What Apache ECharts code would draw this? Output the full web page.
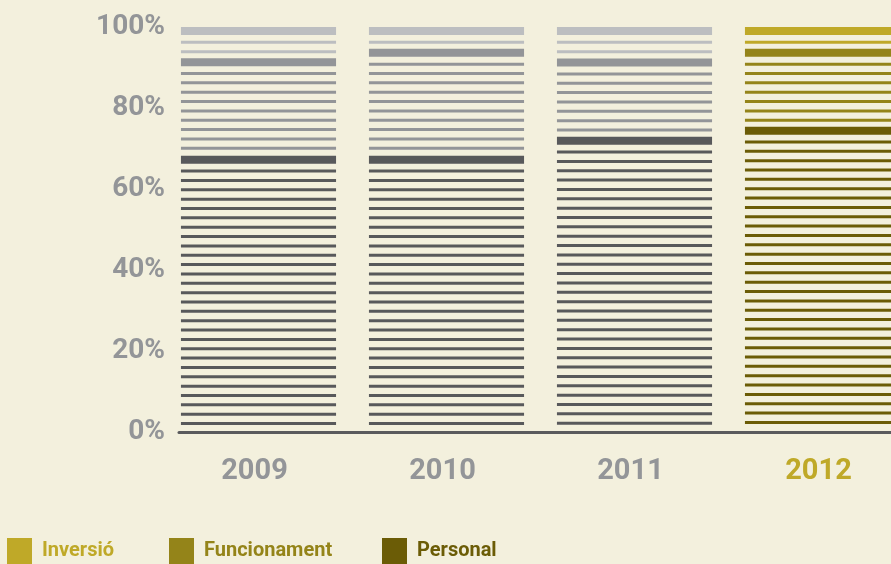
<!DOCTYPE html>
<html>
<head>
<meta charset="utf-8">
<script src="https://cdn.jsdelivr.net/npm/echarts@6/dist/echarts.min.js"></script>
<style>
  html, body { margin: 0; padding: 0; background: #f3f0dd; }
  #chart { width: 891px; height: 564px; }
</style>
</head>
<body>
<div id="chart"></div>
<script>
// percentage share of each chapter per year
const years = ['2009', '2010', '2011', '2012']
const personal = [68.2, 68.2, 72.9, 75.4]
const funcionament = [24.1, 26.4, 19.3, 19.2]
const inversio = [7.7, 5.4, 7.8, 5.4]
const yTicks = [0, 20, 40, 60, 80, 100]

const greyCol = { Personal: '#58595b', Funcionament: '#939598', 'Inversió': '#bcbec0' }
const goldCol = { Personal: '#6b5c06', Funcionament: '#948419', 'Inversió': '#bfa928' }
const hiYear = '2012'

const font = 'Roboto, "DejaVu Sans", sans-serif'
const chart = echarts.init(document.getElementById('chart'))

// stacked ranges [category, bottom, top]
function ranges (vals, below) {
  return vals.map((v, i) => {
    const lo = below.reduce((s, arr) => s + arr[i], 0)
    return [i, lo, lo + v]
  })
}

function stripes (name) {
  return function (params, api) {
    const ci = api.value(0)
    const top = api.coord([ci, api.value(2)])
    const bot = api.coord([ci, api.value(1)])
    const band = api.size([1, 0])[0]
    const w = band * 0.825
    const x = top[0] + 4 - w / 2
    const color = years[ci] === hiYear ? goldCol[name] : greyCol[name]
    const kids = [{ type: 'rect', shape: { x: x, y: top[1], width: w, height: 8 }, style: { fill: color } }]
    for (let c = top[1] + 15.3; c <= bot[1] - 3.5; c += 9.35) {
      kids.push({ type: 'rect', shape: { x: x, y: c - 1.5, width: w, height: 3 }, style: { fill: color } })
    }
    return { type: 'group', children: kids }
  }
}

function legendAt (left, name) {
  return {
    left: left, top: 538, padding: 0, icon: 'rect', itemWidth: 25, itemHeight: 26,
    selectedMode: false,
    data: [{ name: name, textStyle: { color: goldCol[name] } }],
    textStyle: { fontFamily: font, fontSize: 20, fontWeight: 'bold', padding: [0, 0, 0, 5] }
  }
}

const option = {
  backgroundColor: '#f3f0dd',
  animation: false,
  legend: [legendAt(7, 'Inversió'), legendAt(169, 'Funcionament'), legendAt(382, 'Personal')],
  grid: [
    { left: 160.5, width: 752, top: 27, bottom: 132, outerBoundsMode: 'none' },
    { left: 179, right: 0, top: 27, bottom: 132, outerBoundsMode: 'none' }
  ],
  xAxis: [
    {
      type: 'category', gridIndex: 0, data: years,
      axisLine: { show: false }, axisTick: { show: false },
      axisLabel: {
        margin: 25, fontFamily: font, fontSize: 29, fontWeight: 'bold',
        color: (v) => v === hiYear ? '#bfa928' : '#939598'
      }
    },
    {
      type: 'value', gridIndex: 1, min: 0, max: 1,
      axisLine: { show: true, lineStyle: { color: '#5a5b5d', width: 3 } },
      axisTick: { show: false }, axisLabel: { show: false }, splitLine: { show: false }
    }
  ],
  yAxis: [
    { type: 'value', gridIndex: 0, min: 0, max: 100, show: false },
    {
      type: 'value', gridIndex: 1, min: yTicks[0], max: yTicks[yTicks.length - 1], interval: 20,
      axisLine: { show: false }, axisTick: { show: false }, splitLine: { show: false },
      axisLabel: {
        margin: 14, fontFamily: font, fontSize: 28, fontWeight: 'bold', color: '#939598',
        formatter: '{value}%'
      }
    }
  ],
  series: [
    { name: 'Personal', type: 'custom', renderItem: stripes('Personal'), itemStyle: { color: goldCol.Personal }, data: ranges(personal, []) },
    { name: 'Funcionament', type: 'custom', renderItem: stripes('Funcionament'), itemStyle: { color: goldCol.Funcionament }, data: ranges(funcionament, [personal]) },
    { name: 'Inversió', type: 'custom', renderItem: stripes('Inversió'), itemStyle: { color: goldCol['Inversió'] }, data: ranges(inversio, [personal, funcionament]) }
  ]
}

chart.setOption(option)
</script>
</body>
</html>
